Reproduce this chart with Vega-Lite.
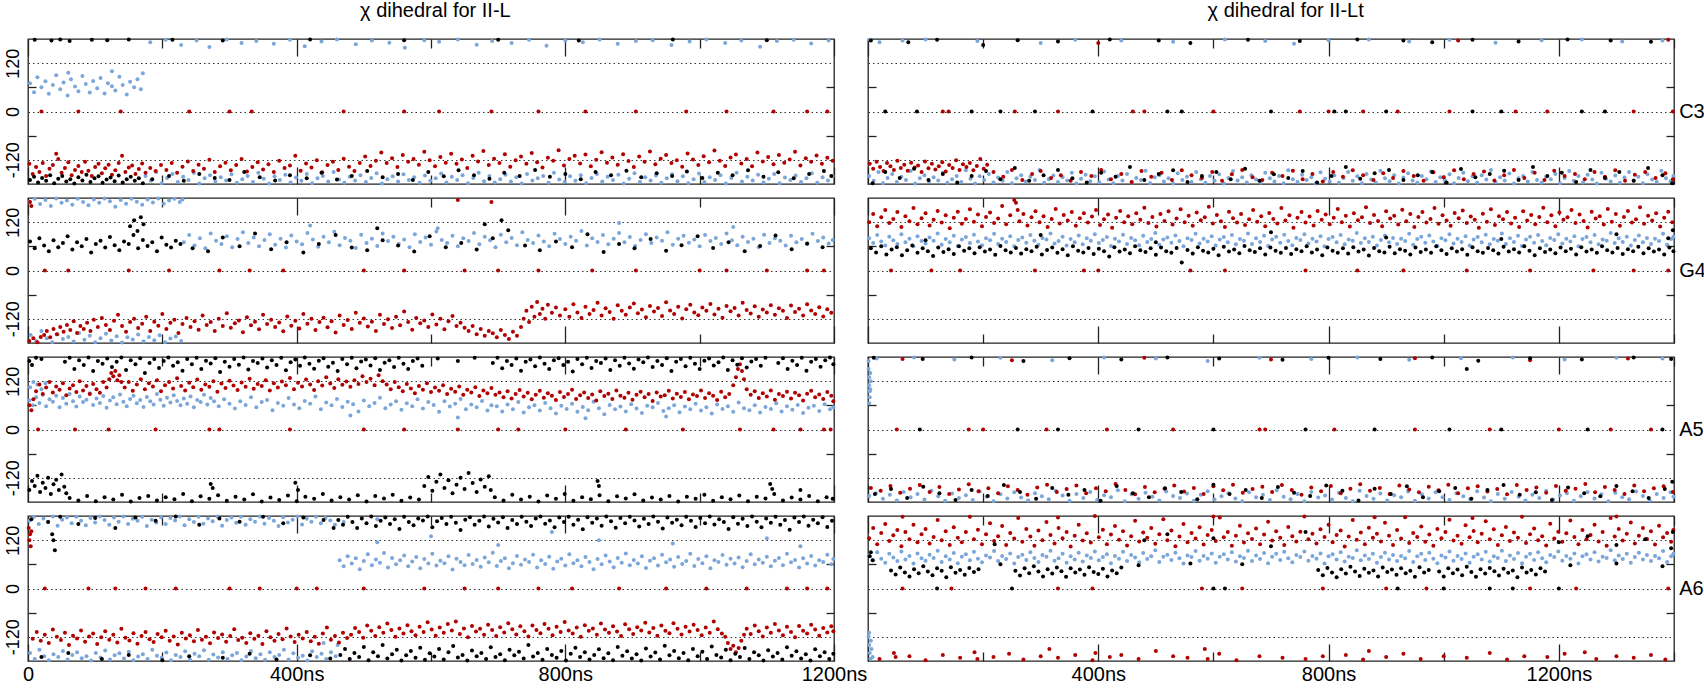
{
"$schema":"https://vega.github.io/schema/vega-lite/v6.json",
"background":"white",
"padding":{"left":3,"top":0,"right":0,"bottom":5},
"spacing":-13,
"config":{"view":{"stroke":"#222","strokeWidth":1.3},"font":"Liberation Sans","axis":{"labelFont":"Liberation Sans","labelColor":"#000","titleFont":"Liberation Sans","titleColor":"#000","tickColor":"#222","tickWidth":1.3,"domain":false,"labelOverlap":false},"title":{"font":"Liberation Sans","fontSize":20,"fontWeight":"normal","color":"#000","anchor":"middle"},"circle":{"size":16,"opacity":1,"strokeWidth":0}},
"hconcat":[
{"title":{"text":"χ dihedral for II-L","offset":16,"anchor":"middle"},"spacing":14,"bounds":"flush","vconcat":[
{"width":806,"height":145,"resolve":{"axis":{"x":"independent","y":"independent"}},"layer":[
{"data":{"values":"x,y\n3,70\n9,48\n14,85\n20,60\n26,75\n31,44\n37,66\n42,90\n48,55\n53,72\n59,40\n64,80\n70,62\n75,50\n81,88\n86,68\n92,47\n97,76\n103,58\n108,83\n114,45\n119,70\n125,63\n130,52\n136,86\n141,66\n147,42\n152,74\n158,60\n163,80\n168,55\n171,95\n125,100\n60,96\n182,172\n205,178\n228,165\n251,176\n270,160\n296,179\n318,170\n340,175\n366,168\n390,178\n412,162\n437,174\n460,179\n488,167\n512,176\n538,171\n561,158\n590,177\n612,173\n640,179\n668,166\n691,175\n720,170\n746,178\n772,163\n800,176\n826,172\n851,179\n878,168\n905,175\n930,177\n958,165\n985,174\n1010,179\n1038,170\n1062,176\n1090,161\n1115,175\n1140,178\n1166,169\n1192,176\n175,-160\n183,-172\n191,-150\n199,-178\n207,-165\n215,-155\n223,-175\n231,-162\n239,-170\n247,-152\n255,-179\n263,-166\n271,-158\n279,-174\n287,-163\n295,-171\n303,-156\n311,-177\n319,-168\n327,-160\n335,-175\n343,-152\n351,-167\n359,-179\n367,-161\n375,-170\n383,-157\n391,-176\n399,-164\n407,-172\n415,-155\n423,-178\n431,-166\n439,-160\n447,-174\n455,-150\n463,-169\n471,-177\n479,-162\n487,-171\n495,-158\n503,-175\n511,-165\n519,-153\n527,-179\n535,-168\n543,-161\n551,-174\n559,-156\n567,-170\n575,-163\n583,-177\n591,-159\n599,-172\n607,-166\n615,-154\n623,-176\n631,-162\n639,-170\n647,-158\n655,-178\n663,-165\n671,-152\n679,-173\n687,-160\n695,-176\n703,-168\n711,-157\n719,-174\n727,-163\n735,-179\n743,-155\n751,-171\n759,-166\n767,-160\n775,-177\n783,-152\n791,-169\n799,-175\n807,-161\n815,-172\n823,-158\n831,-178\n839,-165\n847,-155\n855,-174\n863,-162\n871,-170\n879,-157\n887,-179\n895,-167\n903,-153\n911,-175\n919,-163\n927,-171\n935,-159\n943,-177\n951,-166\n959,-156\n967,-173\n975,-161\n983,-178\n991,-168\n999,-154\n1007,-175\n1015,-163\n1023,-170\n1031,-158\n1039,-179\n1047,-165\n1055,-152\n1063,-174\n1071,-162\n1079,-171\n1087,-157\n1095,-176\n1103,-167\n1111,-155\n1119,-178\n1127,-164\n1135,-170\n1143,-159\n1151,-175\n1159,-166\n1167,-153\n1175,-177\n1183,-163\n1191,-171\n1198,-160","format":{"type":"csv","parse":{"x":"number","y":"number"}}},
"mark":{"type":"circle","color":"#7ba6d9"},
"encoding":{"x":{"field":"x","type":"quantitative","scale":{"domain":[0,1200],"nice":false},"axis":{"orient":"bottom","values":[0,200,400,600,800,1000,1200],"labels":false,"grid":false,"title":null,"tickSize":{"condition":{"test":"datum.value%400==0","value":-17},"value":-9}}},
"y":{"field":"y","type":"quantitative","scale":{"domain":[-180,180],"nice":false},"axis":{"orient":"left","values":[-120,-60,0,60,120],"labelExpr":"abs(datum.value)==60?'':datum.value+''","labelAngle":-90,"labelAlign":"center","labelBaseline":"bottom","labelFontSize":18,"labelPadding":14,"tickSize":-8,"tickOpacity":{"condition":{"test":"abs(datum.value)==60","value":1},"value":0},"grid":true,"gridDash":[1.5,3],"gridColor":"#333","gridOpacity":{"condition":{"test":"abs(datum.value)==60","value":0},"value":1},"title":null}}}},
{"data":{"values":"x,y\n2,-130\n7,-155\n12,-138\n17,-150\n22,-128\n27,-160\n32,-142\n37,-133\n42,-105\n45,-118\n50,-152\n55,-140\n60,-126\n65,-158\n70,-145\n75,-135\n80,-150\n85,-125\n90,-147\n95,-160\n100,-138\n105,-130\n110,-153\n115,-141\n120,-132\n125,-157\n130,-146\n135,-128\n140,-110\n145,-150\n150,-139\n155,-134\n160,-155\n165,-143\n170,-129\n175,-152\n182,-140\n190,-148\n198,-133\n206,-145\n214,-128\n222,-152\n230,-137\n238,-124\n246,-148\n254,-132\n262,-142\n270,-120\n278,-150\n286,-136\n294,-127\n302,-146\n310,-133\n318,-118\n326,-149\n334,-138\n342,-126\n350,-144\n358,-131\n366,-150\n374,-122\n382,-140\n390,-134\n398,-110\n406,-147\n414,-129\n422,-139\n430,-121\n438,-151\n446,-133\n454,-125\n462,-145\n470,-117\n478,-137\n486,-148\n494,-128\n502,-112\n510,-135\n518,-122\n526,-102\n534,-128\n542,-116\n550,-138\n558,-108\n566,-125\n574,-118\n582,-132\n590,-100\n598,-121\n606,-136\n614,-113\n622,-127\n630,-105\n638,-130\n646,-119\n654,-140\n662,-110\n670,-124\n678,-98\n686,-133\n694,-117\n702,-128\n710,-106\n718,-137\n726,-121\n734,-112\n742,-130\n750,-103\n758,-126\n766,-139\n774,-115\n782,-122\n790,-96\n798,-134\n806,-118\n814,-110\n822,-129\n830,-107\n838,-136\n846,-120\n854,-101\n862,-127\n870,-114\n878,-132\n886,-106\n894,-123\n902,-138\n910,-112\n918,-125\n926,-99\n934,-131\n942,-117\n950,-108\n958,-128\n966,-121\n974,-137\n982,-104\n990,-119\n998,-133\n1006,-111\n1014,-126\n1022,-97\n1030,-122\n1038,-135\n1046,-114\n1054,-107\n1062,-129\n1070,-118\n1078,-136\n1086,-102\n1094,-124\n1102,-113\n1110,-131\n1118,-108\n1126,-127\n1134,-119\n1142,-100\n1150,-134\n1158,-116\n1166,-125\n1174,-109\n1182,-130\n1190,-115\n1198,-122\n20,0\n75,0\n138,0\n240,0\n300,0\n333,0\n470,0\n560,0\n612,0\n690,0\n760,0\n830,0\n905,0\n980,0\n1040,0\n1110,0\n1160,0\n1190,0","format":{"type":"csv","parse":{"x":"number","y":"number"}}},
"mark":{"type":"circle","color":"#b00000"},"encoding":{"x":{"field":"x","type":"quantitative","axis":null},"y":{"field":"y","type":"quantitative","axis":null}}},
{"data":{"values":"x,y\n3,-170\n9,-162\n15,-176\n21,-165\n27,-172\n33,-158\n39,-178\n45,-167\n51,-160\n57,-174\n63,-168\n69,-179\n75,-163\n81,-171\n87,-157\n93,-175\n99,-166\n105,-161\n111,-177\n117,-169\n123,-164\n129,-173\n135,-159\n141,-176\n147,-168\n153,-162\n159,-172\n165,-166\n171,-178\n10,178\n35,176\n48,179\n62,175\n95,178\n118,177\n150,179\n185,-168\n210,-160\n232,-172\n255,-155\n278,-165\n300,-170\n322,-150\n345,-163\n368,-171\n390,-158\n415,-166\n437,-152\n460,-169\n482,-160\n505,-148\n528,-163\n551,-155\n573,-170\n596,-150\n619,-161\n641,-146\n664,-158\n687,-167\n709,-152\n732,-160\n755,-145\n777,-162\n800,-155\n823,-168\n845,-150\n868,-158\n891,-147\n913,-163\n936,-153\n959,-160\n981,-149\n1004,-165\n1027,-152\n1049,-158\n1072,-146\n1095,-162\n1117,-151\n1140,-166\n1163,-155\n1185,-148\n1196,-160\n215,178\n290,176\n420,179\n560,177\n700,178\n820,176\n960,179\n1100,177","format":{"type":"csv","parse":{"x":"number","y":"number"}}},
"mark":{"type":"circle","color":"#000000"},"encoding":{"x":{"field":"x","type":"quantitative","axis":null},"y":{"field":"y","type":"quantitative","axis":null}}},
{"data":{"values":[{"x":0,"y":0}]},"mark":{"type":"circle","opacity":0},"encoding":{"x":{"field":"x","type":"quantitative","axis":{"orient":"top","values":[0,200,400,600,800,1000,1200],"labels":false,"grid":false,"title":null,"tickSize":{"condition":{"test":"datum.value%400==0","value":-17},"value":-9}}},"y":{"field":"y","type":"quantitative","axis":{"orient":"right","values":[-60,60],"labels":false,"grid":false,"title":null,"tickSize":-8}}}}
]},
{"width":806,"height":145,"resolve":{"axis":{"x":"independent","y":"independent"}},"layer":[
{"data":{"values":"x,y\n2,170\n10,178\n18,165\n26,175\n34,160\n42,179\n50,168\n58,174\n66,163\n74,178\n82,170\n90,162\n98,176\n106,168\n114,179\n122,172\n130,158\n138,175\n146,166\n154,178\n162,171\n170,163\n178,176\n186,169\n194,179\n202,166\n210,174\n218,178\n226,170\n230,176\n4,-160\n12,-175\n20,-150\n28,-168\n36,-178\n44,-158\n52,-170\n60,-165\n68,-176\n76,-155\n84,-172\n92,-162\n100,-178\n108,-168\n116,-157\n124,-174\n132,-163\n140,-179\n148,-166\n156,-171\n164,-159\n172,-176\n180,-165\n188,-173\n196,-161\n204,-178\n212,-169\n220,-164\n228,-175\n232,70\n240,88\n248,62\n256,80\n264,55\n272,92\n280,74\n288,66\n296,85\n304,58\n312,78\n320,95\n328,68\n336,82\n344,60\n352,76\n360,90\n368,64\n376,79\n384,57\n392,87\n400,72\n408,65\n416,93\n424,77\n432,59\n440,84\n448,70\n456,96\n464,63\n472,81\n480,74\n488,56\n496,89\n504,68\n512,79\n520,61\n528,92\n536,73\n544,84\n552,66\n560,77\n568,58\n576,90\n584,71\n592,82\n600,64\n608,97\n616,76\n624,68\n632,86\n640,60\n648,80\n656,73\n664,93\n672,65\n680,84\n688,75\n696,58\n704,89\n712,70\n720,81\n728,63\n736,95\n744,76\n752,68\n760,87\n768,72\n776,60\n784,91\n792,78\n800,66\n808,84\n816,74\n824,98\n832,62\n840,80\n848,71\n856,88\n864,65\n872,79\n880,93\n888,70\n896,83\n904,61\n912,76\n920,90\n928,68\n936,82\n944,74\n952,95\n960,64\n968,79\n976,86\n984,69\n992,77\n1000,60\n1008,88\n1016,73\n1024,81\n1032,66\n1040,92\n1048,75\n1056,63\n1064,84\n1072,71\n1080,79\n1088,58\n1096,89\n1104,68\n1112,80\n1120,74\n1128,62\n1136,86\n1144,70\n1152,78\n1160,65\n1168,91\n1176,73\n1184,82\n1192,67\n1198,76\n420,112\n610,105\n880,118\n1050,108","format":{"type":"csv","parse":{"x":"number","y":"number"}}},
"mark":{"type":"circle","color":"#7ba6d9"},
"encoding":{"x":{"field":"x","type":"quantitative","scale":{"domain":[0,1200],"nice":false},"axis":{"orient":"bottom","values":[0,200,400,600,800,1000,1200],"labels":false,"grid":false,"title":null,"tickSize":{"condition":{"test":"datum.value%400==0","value":-17},"value":-9}}},
"y":{"field":"y","type":"quantitative","scale":{"domain":[-180,180],"nice":false},"axis":{"orient":"left","values":[-120,-60,0,60,120],"labelExpr":"abs(datum.value)==60?'':datum.value+''","labelAngle":-90,"labelAlign":"center","labelBaseline":"bottom","labelFontSize":18,"labelPadding":14,"tickSize":-8,"tickOpacity":{"condition":{"test":"abs(datum.value)==60","value":1},"value":0},"grid":true,"gridDash":[1.5,3],"gridColor":"#333","gridOpacity":{"condition":{"test":"abs(datum.value)==60","value":0},"value":1},"title":null}}}},
{"data":{"values":"x,y\n2,-175\n8,-168\n14,-178\n19,-165\n24,-160\n28,-150\n33,-166\n38,-145\n43,-158\n48,-140\n53,-152\n58,-135\n63,-148\n68,-126\n73,-155\n78,-138\n83,-145\n88,-130\n93,-150\n98,-122\n104,-140\n110,-118\n116,-135\n122,-148\n128,-125\n134,-110\n140,-138\n146,-152\n152,-128\n158,-120\n164,-143\n170,-132\n176,-115\n182,-150\n188,-127\n194,-137\n200,-108\n206,-145\n212,-130\n218,-122\n224,-155\n230,-133\n236,-118\n242,-140\n248,-126\n254,-147\n260,-112\n266,-135\n272,-128\n278,-150\n284,-120\n290,-138\n296,-106\n302,-142\n308,-131\n314,-124\n320,-153\n326,-116\n332,-136\n338,-127\n344,-146\n350,-110\n356,-133\n362,-122\n368,-140\n374,-129\n380,-151\n386,-114\n392,-137\n398,-125\n404,-144\n410,-108\n416,-132\n422,-120\n428,-148\n434,-128\n440,-117\n446,-141\n452,-126\n458,-154\n464,-112\n470,-135\n476,-123\n482,-145\n488,-105\n494,-130\n500,-119\n506,-139\n512,-127\n518,-150\n524,-110\n530,-133\n536,-121\n542,-143\n548,-115\n554,-136\n560,-102\n566,-128\n572,-147\n578,-118\n584,-131\n590,-124\n596,-140\n602,-109\n608,-134\n614,-120\n620,-146\n626,-126\n632,-113\n638,-138\n644,-130\n650,-142\n656,-150\n662,-138\n668,-158\n674,-145\n680,-162\n686,-150\n692,-156\n698,-166\n704,-148\n710,-160\n716,-170\n722,-152\n728,-162\n734,-140\n738,-120\n742,-100\n746,-128\n750,-90\n754,-115\n758,-78\n762,-108\n766,-95\n770,-120\n774,-85\n780,-105\n786,-92\n792,-112\n800,-96\n806,-115\n812,-84\n818,-104\n824,-118\n830,-90\n836,-108\n842,-98\n848,-80\n854,-112\n860,-94\n866,-103\n872,-120\n878,-86\n884,-100\n890,-110\n896,-92\n902,-82\n908,-106\n914,-97\n920,-116\n926,-88\n932,-102\n938,-93\n944,-113\n950,-79\n956,-99\n962,-108\n968,-90\n974,-119\n980,-96\n986,-85\n992,-104\n998,-111\n1004,-92\n1010,-100\n1016,-83\n1022,-109\n1028,-95\n1034,-117\n1040,-88\n1046,-101\n1052,-93\n1058,-112\n1064,-80\n1070,-98\n1076,-107\n1082,-89\n1088,-115\n1094,-97\n1100,-104\n1106,-86\n1112,-110\n1118,-94\n1124,-100\n1130,-118\n1136,-87\n1142,-103\n1148,-95\n1154,-112\n1160,-84\n1166,-99\n1172,-108\n1178,-91\n1184,-114\n1190,-96\n1196,-105\n640,175\n690,170\n3,170\n5,160\n25,0\n60,0\n150,0\n210,0\n285,0\n330,0\n380,0\n500,0\n560,0\n650,0\n700,0\n760,0\n840,0\n905,0\n1000,0\n1040,0\n1100,0\n1160,0\n1185,0","format":{"type":"csv","parse":{"x":"number","y":"number"}}},
"mark":{"type":"circle","color":"#b00000"},"encoding":{"x":{"field":"x","type":"quantitative","axis":null},"y":{"field":"y","type":"quantitative","axis":null}}},
{"data":{"values":"x,y\n3,72\n10,55\n17,80\n24,62\n31,48\n38,75\n45,58\n52,68\n59,85\n66,52\n73,70\n80,60\n87,78\n94,45\n101,66\n108,74\n115,57\n122,83\n129,63\n136,50\n143,72\n150,66\n157,88\n164,55\n171,76\n178,61\n185,70\n192,48\n199,82\n206,64\n213,57\n220,74\n227,66\n152,110\n158,125\n163,98\n168,132\n172,115\n245,55\n268,48\n290,82\n315,60\n338,92\n362,53\n385,70\n410,45\n433,66\n458,88\n482,57\n505,50\n520,105\n528,75\n551,62\n575,47\n598,85\n622,58\n645,68\n668,52\n680,115\n692,80\n705,125\n715,100\n740,62\n762,50\n786,72\n810,58\n833,90\n857,46\n880,66\n903,55\n927,78\n950,49\n973,63\n997,85\n1020,56\n1043,70\n1067,48\n1090,61\n1113,87\n1137,53\n1160,67\n1183,58","format":{"type":"csv","parse":{"x":"number","y":"number"}}},
"mark":{"type":"circle","color":"#000000"},"encoding":{"x":{"field":"x","type":"quantitative","axis":null},"y":{"field":"y","type":"quantitative","axis":null}}},
{"data":{"values":[{"x":0,"y":0}]},"mark":{"type":"circle","opacity":0},"encoding":{"x":{"field":"x","type":"quantitative","axis":{"orient":"top","values":[0,200,400,600,800,1000,1200],"labels":false,"grid":false,"title":null,"tickSize":{"condition":{"test":"datum.value%400==0","value":-17},"value":-9}}},"y":{"field":"y","type":"quantitative","axis":{"orient":"right","values":[-60,60],"labels":false,"grid":false,"title":null,"tickSize":-8}}}}
]},
{"width":806,"height":145,"resolve":{"axis":{"x":"independent","y":"independent"}},"layer":[
{"data":{"values":"x,y\n3,105\n8,118\n14,112\n20,100\n26,115\n2,72\n7,60\n12,80\n17,66\n22,86\n27,58\n32,75\n37,69\n42,84\n47,55\n52,78\n57,64\n62,88\n67,70\n72,57\n77,82\n82,68\n87,74\n92,90\n97,61\n102,77\n107,66\n112,83\n117,54\n122,72\n127,80\n132,63\n137,87\n142,69\n147,58\n152,76\n157,84\n162,65\n167,73\n172,56\n177,81\n182,70\n187,62\n192,88\n197,74\n202,59\n207,79\n212,67\n217,85\n222,71\n227,60\n232,77\n237,64\n242,82\n247,55\n252,73\n257,68\n262,86\n267,62\n272,78\n277,70\n284,58\n292,75\n300,64\n308,52\n316,70\n324,61\n332,80\n340,55\n348,68\n356,73\n364,48\n372,66\n380,59\n388,78\n396,62\n404,53\n412,71\n420,64\n428,82\n436,50\n444,67\n452,60\n460,76\n468,56\n476,69\n484,63\n492,45\n500,72\n508,58\n516,66\n524,79\n532,53\n540,62\n548,70\n556,49\n564,65\n572,58\n580,75\n588,52\n596,68\n604,61\n612,44\n620,70\n628,57\n636,64\n644,76\n652,50\n660,62\n668,55\n676,71\n684,47\n690,60\n698,58\n706,45\n714,62\n722,50\n730,68\n738,42\n746,55\n754,60\n762,47\n770,66\n778,53\n786,40\n794,59\n802,51\n810,64\n818,44\n826,56\n834,48\n842,69\n850,53\n858,38\n866,61\n874,50\n882,57\n890,45\n898,63\n906,52\n914,41\n922,59\n930,55\n938,66\n946,46\n954,53\n962,60\n970,43\n978,57\n986,50\n994,64\n1002,47\n1010,55\n1018,40\n1026,62\n1034,51\n1042,58\n1050,44\n1058,67\n1066,53\n1074,48\n1082,60\n1090,42\n1098,56\n1106,51\n1114,65\n1122,45\n1130,58\n1138,49\n1146,61\n1154,41\n1162,54\n1170,59\n1178,46\n1186,63\n1194,50\n1199,55\n480,35\n640,30\n830,28\n950,32","format":{"type":"csv","parse":{"x":"number","y":"number"}}},
"mark":{"type":"circle","color":"#7ba6d9"},
"encoding":{"x":{"field":"x","type":"quantitative","scale":{"domain":[0,1200],"nice":false},"axis":{"orient":"bottom","values":[0,200,400,600,800,1000,1200],"labels":false,"grid":false,"title":null,"tickSize":{"condition":{"test":"datum.value%400==0","value":-17},"value":-9}}},
"y":{"field":"y","type":"quantitative","scale":{"domain":[-180,180],"nice":false},"axis":{"orient":"left","values":[-120,-60,0,60,120],"labelExpr":"abs(datum.value)==60?'':datum.value+''","labelAngle":-90,"labelAlign":"center","labelBaseline":"bottom","labelFontSize":18,"labelPadding":14,"tickSize":-8,"tickOpacity":{"condition":{"test":"abs(datum.value)==60","value":1},"value":0},"grid":true,"gridDash":[1.5,3],"gridColor":"#333","gridOpacity":{"condition":{"test":"abs(datum.value)==60","value":0},"value":1},"title":null}}}},
{"data":{"values":"x,y\n2,60\n5,48\n8,75\n12,95\n17,112\n22,88\n27,104\n32,118\n37,92\n42,107\n47,99\n52,115\n57,85\n62,102\n67,110\n72,93\n77,120\n82,97\n87,108\n92,88\n97,113\n102,100\n107,91\n112,118\n117,104\n121,125\n124,140\n127,132\n130,145\n133,122\n136,135\n139,118\n144,104\n150,118\n156,96\n162,112\n168,125\n174,100\n180,115\n186,107\n192,122\n198,95\n204,110\n210,118\n216,102\n222,127\n228,108\n234,97\n240,116\n246,105\n252,124\n258,99\n264,112\n270,106\n276,120\n282,94\n288,114\n294,103\n300,121\n306,109\n312,98\n318,117\n324,106\n330,126\n336,101\n342,113\n348,108\n354,122\n360,97\n366,115\n372,104\n378,119\n384,110\n390,128\n396,100\n402,116\n408,107\n414,124\n420,112\n426,98\n432,120\n438,109\n444,130\n450,114\n456,103\n462,125\n468,111\n474,119\n480,106\n486,122\n492,113\n498,132\n504,118\n510,126\n516,110\n522,135\n528,120\n534,112\n540,100\n546,118\n552,105\n558,95\n564,113\n570,102\n576,90\n582,108\n588,99\n594,115\n600,93\n606,104\n612,96\n618,110\n624,88\n630,101\n636,94\n642,107\n648,86\n654,99\n660,92\n666,105\n672,83\n678,97\n684,90\n690,103\n696,86\n702,92\n708,80\n714,95\n720,77\n726,88\n732,98\n738,82\n744,91\n750,75\n756,86\n762,96\n768,79\n774,90\n780,84\n786,73\n792,93\n798,81\n804,88\n810,99\n816,76\n822,85\n828,92\n834,78\n840,87\n846,72\n852,95\n858,83\n864,89\n870,76\n876,97\n882,84\n888,79\n894,91\n900,74\n906,86\n912,94\n918,80\n924,88\n930,71\n936,92\n942,82\n948,85\n954,96\n960,77\n966,89\n972,81\n978,93\n984,75\n990,87\n996,83\n1002,97\n1008,78\n1014,90\n1020,84\n1026,73\n1032,94\n1038,80\n1044,88\n1050,110\n1054,130\n1057,150\n1060,162\n1063,145\n1066,125\n1070,100\n1076,86\n1082,95\n1088,78\n1094,90\n1100,82\n1106,97\n1112,74\n1118,88\n1124,83\n1130,94\n1136,77\n1142,91\n1148,85\n1154,72\n1160,89\n1166,96\n1172,80\n1178,87\n1184,76\n1190,93\n1196,84\n1199,70\n15,0\n70,0\n120,0\n190,0\n270,0\n285,0\n390,0\n500,0\n560,0\n640,0\n700,0\n730,0\n800,0\n890,0\n975,0\n1060,0\n1110,0\n1150,0\n1185,0\n1195,0","format":{"type":"csv","parse":{"x":"number","y":"number"}}},
"mark":{"type":"circle","color":"#b00000"},"encoding":{"x":{"field":"x","type":"quantitative","axis":null},"y":{"field":"y","type":"quantitative","axis":null}}},
{"data":{"values":"x,y\n2,170\n6,160\n12,178\n20,175\n55,168\n62,178\n69,150\n76,172\n83,160\n90,179\n97,145\n104,170\n111,163\n118,176\n125,155\n132,168\n139,179\n146,148\n153,172\n160,162\n167,177\n174,140\n181,165\n188,175\n195,153\n202,170\n209,179\n216,158\n223,167\n230,146\n237,175\n244,162\n251,178\n258,150\n265,171\n272,164\n279,177\n286,143\n293,168\n300,156\n307,175\n314,161\n321,179\n328,149\n335,170\n342,165\n349,176\n356,154\n363,172\n370,160\n377,178\n384,147\n391,167\n398,174\n405,158\n412,179\n419,163\n426,151\n433,171\n440,177\n447,156\n454,166\n461,145\n468,175\n475,162\n482,178\n489,152\n496,169\n503,174\n510,159\n517,177\n524,148\n531,166\n538,172\n545,155\n552,178\n559,163\n566,150\n573,170\n580,176\n587,158\n610,176\n640,170\n665,178\n692,165\n699,178\n706,152\n713,170\n720,160\n727,176\n734,146\n741,168\n748,174\n755,157\n762,179\n769,163\n776,150\n783,172\n790,177\n797,160\n804,168\n811,144\n818,175\n825,162\n832,178\n839,153\n846,170\n853,165\n860,176\n867,148\n874,172\n881,158\n888,178\n895,164\n902,151\n909,174\n916,167\n923,179\n930,155\n937,170\n944,160\n951,177\n958,145\n965,168\n972,175\n979,157\n986,178\n993,163\n1000,150\n1007,171\n1014,176\n1021,159\n1028,167\n1035,179\n1042,148\n1049,172\n1056,161\n1063,177\n1070,154\n1077,169\n1084,175\n1091,158\n1098,178\n1117,165\n1124,177\n1131,150\n1138,171\n1145,160\n1152,178\n1159,146\n1166,168\n1173,175\n1180,156\n1187,172\n1194,179\n1199,162\n2,-150\n6,-128\n10,-140\n14,-115\n18,-155\n22,-132\n26,-145\n30,-120\n34,-160\n38,-136\n42,-125\n46,-150\n50,-112\n54,-142\n57,-158\n590,-140\n596,-118\n602,-152\n608,-130\n614,-112\n620,-145\n626,-126\n632,-158\n638,-137\n644,-120\n650,-148\n656,-108\n662,-133\n668,-155\n674,-124\n680,-142\n686,-116\n689,-150\n62,-170\n75,-176\n88,-165\n101,-178\n114,-168\n127,-174\n140,-162\n153,-179\n166,-170\n179,-165\n192,-176\n205,-168\n218,-173\n231,-160\n244,-178\n257,-166\n270,-172\n283,-163\n296,-177\n309,-167\n322,-174\n335,-161\n348,-179\n361,-169\n374,-175\n387,-164\n400,-178\n413,-167\n426,-172\n439,-160\n452,-176\n465,-168\n478,-174\n491,-163\n504,-179\n517,-165\n530,-171\n543,-162\n556,-177\n569,-169\n582,-174\n695,-168\n708,-176\n721,-162\n734,-174\n747,-167\n760,-179\n773,-164\n786,-172\n799,-160\n812,-177\n825,-168\n838,-173\n851,-163\n864,-178\n877,-166\n890,-171\n903,-161\n916,-176\n929,-169\n942,-174\n955,-165\n968,-179\n981,-167\n994,-172\n1007,-162\n1020,-177\n1033,-168\n1046,-173\n1059,-164\n1072,-178\n1085,-167\n1098,-171\n1111,-160\n1124,-176\n1137,-169\n1150,-174\n1163,-165\n1176,-178\n1189,-168\n1198,-172\n272,-135\n275,-145\n398,-132\n402,-150\n850,-140\n848,-128\n1105,-135\n1108,-148\n1150,-150","format":{"type":"csv","parse":{"x":"number","y":"number"}}},
"mark":{"type":"circle","color":"#000000"},"encoding":{"x":{"field":"x","type":"quantitative","axis":null},"y":{"field":"y","type":"quantitative","axis":null}}},
{"data":{"values":[{"x":0,"y":0}]},"mark":{"type":"circle","opacity":0},"encoding":{"x":{"field":"x","type":"quantitative","axis":{"orient":"top","values":[0,200,400,600,800,1000,1200],"labels":false,"grid":false,"title":null,"tickSize":{"condition":{"test":"datum.value%400==0","value":-17},"value":-9}}},"y":{"field":"y","type":"quantitative","axis":{"orient":"right","values":[-60,60],"labels":false,"grid":false,"title":null,"tickSize":-8}}}}
]},
{"width":806,"height":145,"resolve":{"axis":{"x":"independent","y":"independent"}},"layer":[
{"data":{"values":"x,y\n2,168\n9,178\n16,160\n23,174\n30,165\n37,179\n44,156\n51,171\n58,176\n65,162\n72,178\n79,168\n86,157\n93,175\n100,164\n107,179\n114,170\n121,158\n128,176\n135,166\n142,179\n149,160\n156,173\n163,168\n170,178\n177,155\n184,171\n191,164\n198,177\n205,160\n212,175\n219,169\n226,179\n233,157\n240,172\n247,165\n254,178\n261,161\n268,174\n275,167\n282,179\n289,156\n296,170\n303,176\n310,163\n317,178\n324,158\n331,172\n338,166\n345,179\n352,161\n359,175\n366,168\n373,155\n380,177\n387,164\n394,171\n401,179\n408,159\n415,173\n422,166\n429,178\n436,162\n443,175\n450,169\n457,158\n3,-160\n10,-175\n17,-152\n24,-168\n31,-178\n38,-163\n45,-170\n52,-155\n59,-176\n66,-165\n73,-158\n80,-173\n87,-168\n94,-179\n101,-160\n108,-171\n115,-154\n122,-176\n129,-166\n136,-161\n143,-174\n150,-157\n157,-178\n164,-169\n171,-163\n178,-175\n185,-152\n192,-167\n199,-172\n206,-159\n213,-178\n220,-165\n227,-170\n234,-156\n241,-176\n248,-162\n255,-168\n262,-153\n269,-177\n276,-164\n283,-171\n290,-158\n297,-175\n304,-166\n311,-160\n318,-178\n325,-169\n332,-155\n339,-173\n346,-163\n353,-177\n360,-158\n367,-170\n374,-165\n381,-152\n388,-176\n395,-161\n402,-172\n409,-167\n416,-179\n423,-156\n430,-170\n437,-162\n444,-175\n451,-158\n458,-168\n461,-140\n440,-135\n464,70\n470,55\n476,80\n482,62\n488,75\n494,48\n500,68\n506,85\n512,58\n518,72\n524,64\n530,88\n536,52\n542,76\n548,60\n554,70\n560,82\n566,55\n572,67\n578,78\n584,50\n590,73\n596,62\n602,86\n608,57\n614,69\n620,63\n626,80\n632,47\n638,74\n644,66\n650,58\n656,83\n662,61\n668,71\n674,54\n680,77\n686,65\n692,89\n698,56\n704,68\n710,75\n716,50\n722,63\n728,81\n734,59\n740,72\n746,66\n752,84\n758,52\n764,70\n770,61\n776,79\n782,49\n788,67\n794,74\n800,57\n806,85\n812,63\n818,70\n824,55\n830,78\n836,66\n842,48\n848,73\n854,60\n860,82\n866,67\n872,53\n878,76\n884,64\n890,87\n896,58\n902,71\n908,62\n914,80\n920,51\n926,69\n932,75\n938,57\n944,84\n950,65\n956,72\n962,54\n968,78\n974,61\n980,68\n986,86\n992,56\n998,73\n1004,63\n1010,80\n1016,50\n1022,70\n1028,66\n1034,83\n1040,59\n1046,74\n1052,62\n1058,77\n1064,53\n1070,68\n1076,85\n1082,60\n1088,72\n1094,64\n1100,79\n1106,55\n1112,69\n1118,76\n1124,58\n1130,86\n1136,65\n1142,71\n1148,52\n1154,75\n1160,62\n1166,81\n1172,57\n1178,70\n1184,66\n1190,84\n1196,60\n1199,73\n520,115\n600,130\n700,108\n780,140\n850,120\n960,112\n1100,125\n1150,105\n470,165\n520,172","format":{"type":"csv","parse":{"x":"number","y":"number"}}},
"mark":{"type":"circle","color":"#7ba6d9"},
"encoding":{"x":{"field":"x","type":"quantitative","scale":{"domain":[0,1200],"nice":false},"axis":{"orient":"bottom","values":[0,200,400,600,800,1000,1200],"labelExpr":"datum.value==0?'0':(datum.value%400==0?datum.value+'ns':'')","labelFontSize":20,"labelPadding":20,"labelFlush":false,"grid":false,"title":null,"tickSize":{"condition":{"test":"datum.value%400==0","value":-17},"value":-9}}},
"y":{"field":"y","type":"quantitative","scale":{"domain":[-180,180],"nice":false},"axis":{"orient":"left","values":[-120,-60,0,60,120],"labelExpr":"abs(datum.value)==60?'':datum.value+''","labelAngle":-90,"labelAlign":"center","labelBaseline":"bottom","labelFontSize":18,"labelPadding":14,"tickSize":-8,"tickOpacity":{"condition":{"test":"abs(datum.value)==60","value":1},"value":0},"grid":true,"gridDash":[1.5,3],"gridColor":"#333","gridOpacity":{"condition":{"test":"abs(datum.value)==60","value":0},"value":1},"title":null}}}},
{"data":{"values":"x,y\n1,150\n2,120\n3,135\n4,105\n5,142\n7,-125\n13,-108\n19,-130\n25,-115\n31,-135\n37,-102\n43,-120\n49,-128\n55,-110\n61,-140\n67,-117\n73,-124\n79,-104\n85,-132\n91,-119\n97,-112\n103,-138\n109,-121\n115,-106\n121,-127\n127,-115\n133,-134\n139,-100\n145,-122\n151,-129\n157,-111\n163,-137\n169,-118\n175,-108\n181,-126\n187,-133\n193,-113\n199,-121\n205,-105\n211,-130\n217,-119\n223,-139\n229,-110\n235,-124\n241,-116\n247,-131\n253,-103\n259,-127\n265,-120\n271,-136\n277,-109\n283,-123\n289,-114\n295,-132\n301,-118\n307,-101\n313,-128\n319,-122\n325,-135\n331,-111\n337,-125\n343,-117\n349,-138\n355,-106\n361,-121\n367,-130\n373,-113\n379,-126\n385,-99\n391,-119\n397,-133\n403,-115\n409,-124\n415,-108\n421,-131\n427,-120\n433,-137\n439,-112\n445,-97\n451,-127\n457,-118\n463,-134\n469,-110\n475,-123\n481,-115\n487,-98\n493,-108\n499,-122\n505,-92\n511,-105\n517,-118\n523,-96\n529,-110\n535,-87\n541,-103\n547,-120\n553,-99\n559,-112\n565,-91\n571,-106\n577,-116\n583,-95\n589,-108\n595,-84\n601,-102\n607,-117\n613,-97\n619,-110\n625,-88\n631,-104\n637,-82\n643,-113\n649,-99\n655,-121\n661,-93\n667,-107\n673,-100\n679,-115\n685,-90\n691,-103\n697,-118\n703,-96\n709,-109\n715,-86\n721,-101\n727,-114\n733,-94\n739,-106\n745,-119\n751,-92\n757,-103\n763,-111\n769,-88\n775,-100\n781,-116\n787,-95\n793,-108\n799,-83\n805,-104\n811,-112\n817,-97\n823,-120\n829,-91\n835,-105\n841,-99\n847,-115\n853,-87\n859,-102\n865,-110\n871,-94\n877,-107\n883,-118\n889,-89\n895,-101\n901,-113\n907,-96\n913,-104\n919,-85\n925,-109\n931,-98\n937,-117\n943,-92\n949,-105\n955,-111\n961,-86\n967,-100\n973,-114\n979,-95\n985,-107\n991,-90\n997,-103\n1003,-116\n1009,-97\n1015,-110\n1021,-82\n1027,-101\n1033,-112\n1038,-120\n1042,-135\n1046,-150\n1050,-142\n1054,-158\n1058,-148\n1062,-130\n1066,-115\n1070,-100\n1076,-113\n1082,-92\n1088,-106\n1094,-119\n1100,-97\n1106,-110\n1112,-88\n1118,-104\n1124,-116\n1130,-95\n1136,-108\n1142,-121\n1148,-93\n1154,-105\n1160,-112\n1166,-90\n1172,-102\n1178,-117\n1184,-98\n1190,-109\n1196,-94\n1199,-106\n25,0\n90,0\n130,0\n175,0\n220,0\n300,0\n345,0\n400,0\n430,0\n500,0\n590,0\n650,0\n700,0\n760,0\n810,0\n880,0\n950,0\n1010,0\n1070,0\n1130,0\n1160,0\n1190,0","format":{"type":"csv","parse":{"x":"number","y":"number"}}},
"mark":{"type":"circle","color":"#b00000"},"encoding":{"x":{"field":"x","type":"quantitative","axis":null},"y":{"field":"y","type":"quantitative","axis":null}}},
{"data":{"values":"x,y\n5,172\n30,165\n48,178\n75,160\n100,175\n130,150\n160,176\n190,168\n220,179\n255,158\n285,174\n315,166\n350,178\n380,162\n410,176\n440,170\n455,150\n36,135\n38,120\n40,95\n462,170\n469,158\n476,178\n483,165\n490,150\n497,174\n504,162\n511,179\n518,155\n525,168\n532,176\n539,160\n546,172\n553,148\n560,178\n567,165\n574,157\n581,174\n588,169\n595,179\n602,152\n609,167\n616,175\n623,160\n630,178\n637,163\n644,145\n651,171\n658,177\n665,158\n672,168\n679,179\n686,154\n693,173\n700,164\n707,177\n714,150\n721,170\n728,160\n735,178\n742,166\n749,155\n756,174\n763,179\n770,161\n777,169\n784,152\n791,176\n798,165\n805,178\n812,158\n819,171\n826,147\n833,177\n840,163\n847,174\n854,156\n861,179\n868,167\n875,151\n882,175\n889,162\n896,178\n903,169\n910,154\n917,173\n924,160\n931,179\n938,166\n945,149\n952,176\n959,163\n966,171\n973,157\n980,178\n987,168\n994,153\n1001,175\n1008,162\n1015,179\n1022,159\n1029,172\n1036,165\n1043,148\n1050,177\n1057,161\n1064,173\n1071,155\n1078,179\n1085,166\n1092,152\n1099,174\n1106,163\n1113,178\n1120,158\n1127,170\n1134,146\n1141,176\n1148,165\n1155,179\n1162,156\n1169,171\n1176,162\n1183,177\n1190,153\n1197,168\n20,-170\n60,-160\n110,-175\n150,-165\n200,-178\n240,-168\n290,-172\n330,-162\n370,-176\n420,-166\n450,-174\n465,-165\n472,-150\n479,-175\n486,-160\n493,-170\n500,-145\n507,-178\n514,-158\n521,-168\n528,-140\n535,-174\n542,-163\n549,-152\n556,-179\n563,-166\n570,-155\n577,-172\n584,-147\n591,-177\n598,-161\n605,-169\n612,-150\n619,-176\n626,-158\n633,-143\n640,-171\n647,-165\n654,-179\n661,-154\n668,-168\n675,-160\n682,-175\n689,-146\n696,-170\n703,-163\n710,-178\n717,-152\n724,-166\n731,-157\n738,-174\n745,-140\n752,-169\n759,-160\n766,-177\n773,-150\n780,-165\n787,-172\n794,-155\n801,-179\n808,-162\n815,-147\n822,-170\n829,-158\n836,-176\n843,-165\n850,-151\n857,-173\n864,-161\n871,-178\n878,-145\n885,-167\n892,-156\n899,-174\n906,-163\n913,-179\n920,-149\n927,-169\n934,-159\n941,-176\n948,-142\n955,-166\n962,-155\n969,-173\n976,-160\n983,-178\n990,-150\n997,-168\n1004,-157\n1011,-175\n1018,-144\n1025,-165\n1032,-171\n1039,-152\n1046,-178\n1053,-162\n1060,-170\n1067,-148\n1074,-175\n1081,-158\n1088,-166\n1095,-179\n1102,-153\n1109,-169\n1116,-160\n1123,-176\n1130,-146\n1137,-167\n1144,-156\n1151,-174\n1158,-163\n1165,-179\n1172,-151\n1179,-168\n1186,-158\n1193,-175\n1199,-162","format":{"type":"csv","parse":{"x":"number","y":"number"}}},
"mark":{"type":"circle","color":"#000000"},"encoding":{"x":{"field":"x","type":"quantitative","axis":null},"y":{"field":"y","type":"quantitative","axis":null}}},
{"data":{"values":[{"x":0,"y":0}]},"mark":{"type":"circle","opacity":0},"encoding":{"x":{"field":"x","type":"quantitative","axis":{"orient":"top","values":[0,200,400,600,800,1000,1200],"labels":false,"grid":false,"title":null,"tickSize":{"condition":{"test":"datum.value%400==0","value":-17},"value":-9}}},"y":{"field":"y","type":"quantitative","axis":{"orient":"right","values":[-60,60],"labels":false,"grid":false,"title":null,"tickSize":-8}}}}
]}
]},
{"title":{"text":"χ dihedral for II-Lt","offset":16,"anchor":"middle"},"spacing":14,"bounds":"flush","vconcat":[
{"width":806,"height":145,"resolve":{"axis":{"x":"independent","y":"independent"}},"layer":[
{"data":{"values":"x,y\n3,178\n20,172\n60,176\n100,179\n190,175\n300,170\n360,178\n440,176\n530,173\n620,179\n690,175\n740,168\n800,177\n870,179\n940,174\n1010,178\n1090,171\n1170,177\n1240,179\n1310,174\n1380,176\n2,-160\n10,-172\n18,-150\n26,-178\n34,-165\n42,-155\n50,-175\n58,-162\n66,-170\n74,-148\n82,-179\n90,-166\n98,-158\n106,-174\n114,-163\n122,-171\n130,-152\n138,-177\n146,-168\n154,-160\n162,-175\n170,-146\n178,-167\n186,-179\n194,-161\n202,-170\n210,-155\n218,-176\n226,-164\n234,-172\n242,-150\n250,-178\n258,-166\n266,-158\n274,-174\n282,-162\n290,-170\n298,-145\n306,-177\n314,-168\n322,-159\n330,-175\n338,-163\n346,-171\n354,-152\n362,-179\n370,-167\n378,-157\n386,-173\n394,-161\n402,-176\n410,-149\n418,-169\n426,-178\n434,-160\n442,-171\n450,-155\n458,-176\n466,-165\n474,-170\n482,-147\n490,-178\n498,-163\n506,-158\n514,-174\n522,-166\n530,-179\n538,-153\n546,-170\n554,-162\n562,-175\n570,-150\n578,-168\n586,-177\n594,-160\n602,-172\n610,-156\n618,-179\n626,-165\n634,-148\n642,-171\n650,-163\n658,-176\n666,-158\n674,-169\n682,-177\n690,-152\n698,-166\n706,-174\n714,-160\n722,-178\n730,-146\n738,-168\n746,-175\n754,-157\n762,-170\n770,-163\n778,-179\n786,-151\n794,-167\n802,-174\n810,-159\n818,-177\n826,-165\n834,-150\n842,-172\n850,-161\n858,-178\n866,-155\n874,-169\n882,-176\n890,-147\n898,-166\n906,-173\n914,-158\n922,-179\n930,-164\n938,-153\n946,-171\n954,-177\n962,-160\n970,-168\n978,-149\n986,-175\n994,-163\n1002,-170\n1010,-156\n1018,-178\n1026,-165\n1034,-152\n1042,-173\n1050,-161\n1058,-177\n1066,-158\n1074,-169\n1082,-145\n1090,-175\n1098,-163\n1106,-171\n1114,-154\n1122,-179\n1130,-166\n1138,-160\n1146,-174\n1154,-150\n1162,-170\n1170,-177\n1178,-162\n1186,-168\n1194,-155\n1202,-178\n1210,-165\n1218,-148\n1226,-172\n1234,-160\n1242,-176\n1250,-157\n1258,-169\n1266,-179\n1274,-152\n1282,-167\n1290,-174\n1298,-159\n1306,-177\n1314,-164\n1322,-150\n1330,-171\n1338,-162\n1346,-178\n1354,-156\n1362,-169\n1370,-175\n1378,-147\n1386,-166\n1394,-173\n1399,-160","format":{"type":"csv","parse":{"x":"number","y":"number"}}},
"mark":{"type":"circle","color":"#7ba6d9"},
"encoding":{"x":{"field":"x","type":"quantitative","scale":{"domain":[0,1400],"nice":false},"axis":{"orient":"bottom","values":[0,200,400,600,800,1000,1200,1400],"labels":false,"grid":false,"title":null,"tickSize":{"condition":{"test":"datum.value%400==0","value":-17},"value":-9}}},
"y":{"field":"y","type":"quantitative","scale":{"domain":[-180,180],"nice":false},"axis":{"orient":"left","values":[-120,-60,0,60,120],"labels":false,"tickSize":-8,"tickOpacity":{"condition":{"test":"abs(datum.value)==60","value":1},"value":0},"grid":true,"gridDash":[1.5,3],"gridColor":"#333","gridOpacity":{"condition":{"test":"abs(datum.value)==60","value":0},"value":1},"title":null}}}},
{"data":{"values":"x,y\n3,-130\n9,-142\n15,-125\n21,-138\n27,-148\n33,-128\n39,-136\n45,-145\n51,-122\n57,-140\n63,-132\n69,-147\n75,-127\n81,-139\n87,-134\n93,-150\n99,-124\n105,-141\n111,-130\n117,-144\n123,-136\n129,-126\n135,-149\n141,-133\n147,-140\n153,-121\n159,-145\n165,-131\n171,-138\n177,-128\n183,-146\n189,-135\n195,-118\n201,-142\n207,-132\n218,-150\n235,-162\n250,-145\n268,-170\n285,-155\n300,-148\n318,-165\n335,-158\n352,-172\n370,-150\n388,-160\n405,-145\n422,-168\n440,-155\n458,-175\n475,-148\n492,-162\n510,-152\n528,-170\n545,-146\n562,-158\n580,-165\n598,-150\n615,-172\n632,-156\n650,-145\n668,-163\n685,-170\n702,-152\n720,-160\n738,-147\n755,-168\n772,-155\n790,-174\n808,-150\n825,-162\n842,-146\n860,-158\n878,-170\n895,-153\n912,-165\n930,-148\n948,-160\n965,-172\n982,-151\n1000,-163\n1018,-146\n1035,-168\n1052,-155\n1070,-149\n1088,-171\n1105,-158\n1122,-145\n1140,-165\n1158,-152\n1175,-170\n1192,-147\n1210,-160\n1228,-155\n1245,-168\n1262,-150\n1280,-162\n1298,-146\n1315,-172\n1332,-157\n1350,-150\n1368,-165\n1385,-153\n1398,-168\n400,170\n1025,176\n1390,178\n130,0\n140,0\n255,0\n330,0\n460,0\n480,0\n600,0\n750,0\n800,0\n860,0\n920,0\n1010,0\n1125,0\n1180,0\n1330,0\n1398,0","format":{"type":"csv","parse":{"x":"number","y":"number"}}},
"mark":{"type":"circle","color":"#b00000"},"encoding":{"x":{"field":"x","type":"quantitative","axis":null},"y":{"field":"y","type":"quantitative","axis":null}}},
{"data":{"values":"x,y\n5,176\n70,172\n120,178\n200,165\n260,177\n330,174\n420,179\n505,176\n560,170\n660,178\n750,175\n850,179\n930,176\n980,172\n1050,178\n1130,174\n1215,179\n1290,176\n1360,173\n8,-178\n30,-150\n55,-165\n80,-142\n105,-170\n130,-155\n155,-176\n180,-160\n205,-148\n230,-168\n255,-140\n280,-172\n305,-158\n330,-145\n355,-166\n380,-176\n405,-152\n430,-162\n455,-138\n480,-170\n505,-155\n530,-146\n555,-175\n580,-160\n605,-150\n630,-168\n655,-142\n680,-172\n705,-156\n730,-165\n755,-148\n780,-176\n805,-160\n830,-138\n855,-167\n880,-153\n905,-145\n930,-170\n955,-158\n980,-150\n1005,-176\n1030,-143\n1055,-163\n1080,-155\n1105,-147\n1130,-170\n1155,-138\n1180,-160\n1205,-152\n1230,-175\n1255,-145\n1280,-165\n1305,-150\n1330,-172\n1355,-140\n1380,-158\n1397,-178\n30,0\n85,0\n180,0\n230,0\n290,0\n390,0\n520,0\n545,0\n700,0\n810,0\n830,0\n900,0\n1050,0\n1100,0\n1240,0\n1280,0","format":{"type":"csv","parse":{"x":"number","y":"number"}}},
"mark":{"type":"circle","color":"#000000"},"encoding":{"x":{"field":"x","type":"quantitative","axis":null},"y":{"field":"y","type":"quantitative","axis":null}}},
{"data":{"values":[{"x":0,"y":0}]},"mark":{"type":"circle","opacity":0},"encoding":{"x":{"field":"x","type":"quantitative","axis":{"orient":"top","values":[0,200,400,600,800,1000,1200,1400],"labels":false,"grid":false,"title":null,"tickSize":{"condition":{"test":"datum.value%400==0","value":-17},"value":-9}}},"y":{"field":"y","type":"quantitative","axis":{"orient":"right","values":[-60,60],"labels":false,"grid":false,"tickSize":-8,"title":"C3","titleAngle":0,"titleAlign":"left","titleBaseline":"middle","titleFontSize":20,"titleFontWeight":"normal","titlePadding":4}}}}
]},
{"width":806,"height":145,"resolve":{"axis":{"x":"independent","y":"independent"}},"layer":[
{"data":{"values":"x,y\n2,80\n9,68\n16,88\n23,72\n30,62\n37,84\n44,75\n51,66\n58,90\n65,70\n72,79\n79,60\n86,85\n93,73\n100,67\n107,82\n114,74\n121,92\n128,64\n135,78\n142,70\n149,86\n156,61\n163,77\n170,83\n177,68\n184,89\n191,72\n198,63\n205,80\n212,75\n219,91\n226,66\n233,79\n240,71\n247,85\n254,60\n261,76\n268,82\n275,69\n282,88\n289,74\n296,64\n303,81\n310,77\n317,92\n324,67\n331,73\n338,84\n345,62\n352,78\n359,70\n366,87\n373,65\n380,80\n387,74\n394,90\n401,68\n408,76\n415,83\n422,61\n429,79\n436,72\n443,89\n450,66\n457,81\n464,75\n471,63\n478,86\n485,71\n492,78\n499,93\n506,64\n513,77\n520,82\n527,69\n534,87\n541,73\n548,60\n555,80\n562,76\n569,91\n576,67\n583,79\n590,72\n597,85\n604,62\n611,77\n618,83\n625,70\n632,88\n639,65\n646,78\n653,74\n660,92\n667,66\n674,80\n681,71\n688,86\n695,61\n702,77\n709,84\n716,69\n723,89\n730,73\n737,63\n744,81\n751,76\n758,90\n765,67\n772,79\n779,72\n786,85\n793,60\n800,78\n807,83\n814,70\n821,88\n828,65\n835,77\n842,74\n849,93\n856,68\n863,80\n870,71\n877,84\n884,62\n891,76\n898,87\n905,70\n912,81\n919,66\n926,79\n933,73\n940,91\n947,64\n954,78\n961,84\n968,69\n975,87\n982,72\n989,61\n996,80\n1003,75\n1010,90\n1017,67\n1024,79\n1031,71\n1038,85\n1045,62\n1052,77\n1059,83\n1066,70\n1073,89\n1080,65\n1087,78\n1094,74\n1101,92\n1108,66\n1115,80\n1122,71\n1129,86\n1136,61\n1143,77\n1150,84\n1157,69\n1164,88\n1171,73\n1178,63\n1185,81\n1192,76\n1199,90\n1206,67\n1213,79\n1220,72\n1227,85\n1234,60\n1241,78\n1248,83\n1255,70\n1262,88\n1269,65\n1276,77\n1283,74\n1290,93\n1297,68\n1304,80\n1311,71\n1318,84\n1325,62\n1332,76\n1339,87\n1346,70\n1353,81\n1360,66\n1367,79\n1374,73\n1381,91\n1388,64\n1395,78\n1399,84","format":{"type":"csv","parse":{"x":"number","y":"number"}}},
"mark":{"type":"circle","color":"#7ba6d9"},
"encoding":{"x":{"field":"x","type":"quantitative","scale":{"domain":[0,1400],"nice":false},"axis":{"orient":"bottom","values":[0,200,400,600,800,1000,1200,1400],"labels":false,"grid":false,"title":null,"tickSize":{"condition":{"test":"datum.value%400==0","value":-17},"value":-9}}},
"y":{"field":"y","type":"quantitative","scale":{"domain":[-180,180],"nice":false},"axis":{"orient":"left","values":[-120,-60,0,60,120],"labels":false,"tickSize":-8,"tickOpacity":{"condition":{"test":"abs(datum.value)==60","value":1},"value":0},"grid":true,"gridDash":[1.5,3],"gridColor":"#333","gridOpacity":{"condition":{"test":"abs(datum.value)==60","value":0},"value":1},"title":null}}}},
{"data":{"values":"x,y\n2,120\n9,140\n16,110\n23,132\n30,150\n37,118\n44,128\n51,145\n58,108\n65,135\n72,122\n79,155\n86,115\n93,130\n100,142\n107,112\n114,126\n121,148\n128,119\n135,137\n142,105\n149,131\n156,146\n163,116\n170,128\n177,152\n184,121\n191,139\n198,110\n205,133\n212,144\n219,118\n226,129\n233,160\n240,115\n247,137\n254,175\n257,168\n260,150\n263,122\n270,140\n277,112\n284,132\n291,147\n298,120\n305,135\n312,108\n319,128\n326,153\n333,117\n340,138\n347,124\n354,145\n361,111\n368,130\n375,142\n382,119\n389,134\n396,150\n403,113\n410,127\n417,139\n424,106\n431,131\n438,148\n445,120\n452,135\n459,115\n466,142\n473,126\n480,156\n487,118\n494,133\n501,109\n508,140\n515,123\n522,147\n529,114\n536,129\n543,152\n550,120\n557,136\n564,111\n571,144\n578,125\n585,132\n592,158\n599,117\n606,138\n613,122\n620,108\n627,146\n634,130\n641,119\n648,140\n655,113\n662,127\n669,150\n676,121\n683,135\n690,110\n697,143\n704,128\n711,117\n718,155\n725,124\n732,137\n739,106\n746,131\n753,145\n760,119\n767,134\n774,112\n781,148\n788,126\n795,139\n802,115\n809,131\n816,153\n823,120\n830,136\n837,109\n844,142\n851,125\n858,132\n865,157\n872,118\n879,138\n886,123\n893,110\n900,147\n907,129\n914,136\n921,114\n928,151\n935,122\n942,140\n949,108\n956,133\n963,145\n970,119\n977,128\n984,155\n991,116\n998,137\n1005,124\n1012,111\n1019,143\n1026,130\n1033,149\n1040,118\n1047,134\n1054,126\n1061,106\n1068,141\n1075,121\n1082,152\n1089,113\n1096,135\n1103,127\n1110,145\n1117,117\n1124,131\n1131,108\n1138,147\n1145,124\n1152,138\n1159,115\n1166,133\n1173,156\n1180,120\n1187,137\n1194,110\n1201,144\n1208,126\n1215,132\n1222,150\n1229,118\n1236,139\n1243,123\n1250,107\n1257,146\n1264,129\n1271,135\n1278,114\n1285,153\n1292,121\n1299,140\n1306,111\n1313,133\n1320,148\n1327,119\n1334,127\n1341,157\n1348,116\n1355,136\n1362,124\n1369,142\n1376,109\n1383,131\n1390,146\n1397,120\n40,0\n110,0\n160,0\n290,0\n375,0\n400,0\n560,0\n620,0\n760,0\n850,0\n930,0\n1040,0\n1150,0\n1260,0\n1330,0\n1390,0","format":{"type":"csv","parse":{"x":"number","y":"number"}}},
"mark":{"type":"circle","color":"#b00000"},"encoding":{"x":{"field":"x","type":"quantitative","axis":null},"y":{"field":"y","type":"quantitative","axis":null}}},
{"data":{"values":"x,y\n5,55\n14,45\n23,60\n32,40\n41,52\n50,58\n59,38\n68,50\n77,62\n86,44\n95,55\n104,48\n113,36\n122,57\n131,46\n140,53\n149,41\n158,60\n167,49\n176,55\n185,43\n194,58\n203,47\n212,52\n221,39\n230,61\n239,50\n248,45\n257,56\n266,42\n275,53\n284,48\n293,59\n302,40\n311,51\n320,57\n329,44\n338,53\n347,38\n356,60\n365,49\n374,45\n383,56\n392,41\n401,54\n410,48\n419,35\n428,58\n437,47\n446,52\n455,43\n464,60\n473,50\n482,46\n491,55\n500,39\n509,57\n518,48\n527,44\n536,56\n545,20\n555,51\n564,42\n573,58\n582,49\n591,45\n600,54\n609,38\n618,59\n627,47\n636,52\n645,43\n654,61\n663,50\n672,46\n681,55\n690,40\n699,57\n708,49\n717,44\n726,56\n735,41\n744,53\n753,48\n762,60\n771,45\n780,52\n789,38\n798,57\n807,49\n816,44\n825,55\n834,42\n843,58\n852,47\n861,52\n870,37\n879,56\n888,48\n897,45\n906,59\n915,43\n924,53\n933,49\n942,40\n951,57\n960,46\n969,52\n978,44\n987,60\n996,50\n1005,41\n1014,55\n1023,47\n1032,53\n1041,39\n1050,58\n1059,48\n1068,44\n1077,56\n1086,50\n1095,42\n1104,59\n1113,47\n1122,53\n1131,45\n1140,60\n1149,49\n1158,38\n1167,55\n1176,46\n1185,52\n1194,43\n1203,57\n1212,48\n1221,54\n1230,40\n1239,58\n1248,47\n1257,52\n1266,44\n1275,60\n1284,50\n1293,45\n1302,56\n1311,41\n1320,53\n1329,48\n1338,59\n1347,43\n1356,55\n1365,47\n1374,52\n1383,40\n1392,57\n1399,48\n100,75\n300,88\n500,70\n700,95\n900,82\n1100,78\n1300,90\n1398,100\n1390,80","format":{"type":"csv","parse":{"x":"number","y":"number"}}},
"mark":{"type":"circle","color":"#000000"},"encoding":{"x":{"field":"x","type":"quantitative","axis":null},"y":{"field":"y","type":"quantitative","axis":null}}},
{"data":{"values":[{"x":0,"y":0}]},"mark":{"type":"circle","opacity":0},"encoding":{"x":{"field":"x","type":"quantitative","axis":{"orient":"top","values":[0,200,400,600,800,1000,1200,1400],"labels":false,"grid":false,"title":null,"tickSize":{"condition":{"test":"datum.value%400==0","value":-17},"value":-9}}},"y":{"field":"y","type":"quantitative","axis":{"orient":"right","values":[-60,60],"labels":false,"grid":false,"tickSize":-8,"title":"G4","titleAngle":0,"titleAlign":"left","titleBaseline":"middle","titleFontSize":20,"titleFontWeight":"normal","titlePadding":4}}}}
]},
{"width":806,"height":145,"resolve":{"axis":{"x":"independent","y":"independent"}},"layer":[
{"data":{"values":"x,y\n15,176\n80,179\n150,174\n230,178\n320,172\n410,179\n500,176\n590,170\n680,178\n770,175\n850,179\n940,173\n1030,177\n1120,179\n1210,174\n1300,178\n1380,176\n1,170\n1,150\n2,130\n2,110\n3,95\n3,80\n4,140\n5,120\n2,65\n4,100\n2,-165\n14,-158\n26,-172\n38,-162\n50,-176\n62,-155\n74,-168\n86,-160\n98,-174\n110,-152\n122,-166\n134,-177\n146,-159\n158,-170\n170,-163\n182,-175\n194,-154\n206,-167\n218,-178\n230,-161\n242,-171\n254,-156\n266,-169\n278,-176\n290,-158\n302,-166\n314,-173\n326,-152\n338,-164\n350,-177\n362,-160\n374,-170\n386,-155\n398,-175\n410,-163\n422,-168\n434,-151\n446,-178\n458,-161\n470,-172\n482,-157\n494,-167\n506,-176\n518,-154\n530,-165\n542,-170\n554,-159\n566,-177\n578,-162\n590,-153\n602,-174\n614,-166\n626,-158\n638,-171\n650,-178\n662,-156\n674,-168\n686,-162\n698,-175\n710,-151\n722,-167\n734,-173\n746,-160\n758,-178\n770,-155\n782,-169\n794,-164\n806,-174\n818,-157\n830,-170\n842,-178\n854,-152\n866,-165\n878,-172\n890,-159\n902,-176\n914,-163\n926,-168\n938,-154\n950,-177\n962,-161\n974,-171\n986,-156\n998,-168\n1010,-175\n1022,-158\n1034,-166\n1046,-173\n1058,-153\n1070,-169\n1082,-178\n1094,-160\n1106,-172\n1118,-155\n1130,-167\n1142,-176\n1154,-162\n1166,-170\n1178,-152\n1190,-174\n1202,-164\n1214,-158\n1226,-177\n1238,-166\n1250,-155\n1262,-171\n1274,-161\n1286,-178\n1298,-157\n1310,-168\n1322,-173\n1334,-154\n1346,-165\n1358,-176\n1370,-160\n1382,-170\n1394,-156\n1399,-167","format":{"type":"csv","parse":{"x":"number","y":"number"}}},
"mark":{"type":"circle","color":"#7ba6d9"},
"encoding":{"x":{"field":"x","type":"quantitative","scale":{"domain":[0,1400],"nice":false},"axis":{"orient":"bottom","values":[0,200,400,600,800,1000,1200,1400],"labels":false,"grid":false,"title":null,"tickSize":{"condition":{"test":"datum.value%400==0","value":-17},"value":-9}}},
"y":{"field":"y","type":"quantitative","scale":{"domain":[-180,180],"nice":false},"axis":{"orient":"left","values":[-120,-60,0,60,120],"labels":false,"tickSize":-8,"tickOpacity":{"condition":{"test":"abs(datum.value)==60","value":1},"value":0},"grid":true,"gridDash":[1.5,3],"gridColor":"#333","gridOpacity":{"condition":{"test":"abs(datum.value)==60","value":0},"value":1},"title":null}}}},
{"data":{"values":"x,y\n60,175\n250,172\n480,178\n700,174\n950,177\n1150,172\n1320,176\n5,-145\n22,-152\n39,-140\n56,-157\n73,-147\n90,-138\n107,-155\n124,-143\n141,-160\n158,-149\n175,-136\n192,-153\n209,-146\n226,-158\n243,-141\n260,-150\n277,-162\n294,-144\n311,-137\n328,-155\n345,-148\n362,-139\n379,-158\n396,-146\n413,-153\n430,-135\n447,-150\n464,-161\n481,-143\n498,-156\n515,-147\n532,-139\n549,-154\n566,-145\n583,-160\n600,-141\n617,-151\n634,-137\n651,-157\n668,-148\n685,-142\n702,-155\n719,-138\n736,-150\n753,-162\n770,-144\n787,-153\n804,-140\n821,-158\n838,-147\n855,-136\n872,-152\n889,-145\n906,-160\n923,-139\n940,-149\n957,-156\n974,-142\n991,-151\n1008,-137\n1025,-158\n1042,-146\n1059,-141\n1076,-154\n1093,-148\n1110,-161\n1127,-138\n1144,-150\n1161,-144\n1178,-157\n1195,-140\n1212,-152\n1229,-147\n1246,-135\n1263,-156\n1280,-143\n1297,-150\n1314,-160\n1331,-139\n1348,-153\n1365,-146\n1382,-141\n1398,-155\n50,0\n175,0\n200,0\n310,0\n415,0\n530,0\n680,0\n690,0\n810,0\n950,0\n1080,0\n1200,0\n1290,0\n1360,0","format":{"type":"csv","parse":{"x":"number","y":"number"}}},
"mark":{"type":"circle","color":"#b00000"},"encoding":{"x":{"field":"x","type":"quantitative","axis":null},"y":{"field":"y","type":"quantitative","axis":null}}},
{"data":{"values":"x,y\n10,178\n95,175\n180,179\n270,170\n350,177\n440,174\n520,179\n610,176\n720,173\n800,178\n890,175\n980,179\n1060,171\n1150,177\n1240,174\n1330,179\n1395,175\n1040,150\n12,-160\n40,-148\n68,-170\n96,-142\n124,-158\n152,-175\n180,-150\n208,-165\n236,-138\n264,-155\n292,-172\n320,-145\n348,-162\n376,-150\n404,-177\n432,-140\n460,-158\n488,-168\n516,-146\n544,-155\n572,-173\n600,-137\n628,-160\n656,-150\n684,-170\n712,-143\n740,-157\n768,-165\n796,-139\n824,-152\n852,-176\n880,-147\n908,-160\n936,-141\n964,-168\n992,-153\n1020,-145\n1048,-172\n1076,-150\n1104,-138\n1132,-162\n1160,-156\n1188,-175\n1216,-144\n1244,-158\n1272,-166\n1300,-140\n1328,-153\n1356,-170\n1384,-148\n1397,-130\n90,0\n260,0\n330,0\n470,0\n600,0\n760,0\n880,0\n1010,0\n1100,0\n1250,0\n1380,0","format":{"type":"csv","parse":{"x":"number","y":"number"}}},
"mark":{"type":"circle","color":"#000000"},"encoding":{"x":{"field":"x","type":"quantitative","axis":null},"y":{"field":"y","type":"quantitative","axis":null}}},
{"data":{"values":[{"x":0,"y":0}]},"mark":{"type":"circle","opacity":0},"encoding":{"x":{"field":"x","type":"quantitative","axis":{"orient":"top","values":[0,200,400,600,800,1000,1200,1400],"labels":false,"grid":false,"title":null,"tickSize":{"condition":{"test":"datum.value%400==0","value":-17},"value":-9}}},"y":{"field":"y","type":"quantitative","axis":{"orient":"right","values":[-60,60],"labels":false,"grid":false,"tickSize":-8,"title":"A5","titleAngle":0,"titleAlign":"left","titleBaseline":"middle","titleFontSize":20,"titleFontWeight":"normal","titlePadding":4}}}}
]},
{"width":806,"height":145,"resolve":{"axis":{"x":"independent","y":"independent"}},"layer":[
{"data":{"values":"x,y\n2,82\n9,70\n16,90\n23,74\n30,64\n37,86\n44,77\n51,68\n58,92\n65,72\n72,81\n79,62\n86,87\n93,75\n100,69\n107,84\n114,76\n121,94\n128,66\n135,80\n142,72\n149,88\n156,63\n163,79\n170,85\n177,70\n184,91\n191,74\n198,65\n205,82\n212,77\n219,93\n226,68\n233,81\n240,73\n247,87\n254,62\n261,78\n268,84\n275,71\n282,90\n289,76\n296,66\n303,83\n310,79\n317,94\n324,69\n331,75\n338,86\n345,64\n352,80\n359,72\n366,89\n373,67\n380,82\n387,76\n394,92\n401,70\n408,78\n415,85\n422,63\n429,81\n436,74\n443,91\n450,68\n457,83\n464,77\n471,65\n478,88\n485,73\n492,80\n499,95\n506,66\n513,79\n520,84\n527,71\n534,89\n541,75\n548,62\n555,82\n562,78\n569,93\n576,69\n583,81\n590,74\n597,87\n604,64\n611,79\n618,85\n625,72\n632,90\n639,67\n646,80\n653,76\n660,94\n667,68\n674,82\n681,73\n688,88\n695,63\n702,79\n709,86\n716,71\n723,91\n730,75\n737,65\n744,83\n751,78\n758,92\n765,69\n772,81\n779,74\n786,87\n793,62\n800,80\n807,85\n814,72\n821,90\n828,67\n835,79\n842,76\n849,95\n856,70\n863,82\n870,73\n877,86\n884,64\n891,78\n898,89\n905,72\n912,83\n919,68\n926,81\n933,75\n940,93\n947,66\n954,80\n961,86\n968,71\n975,89\n982,74\n989,63\n996,82\n1003,77\n1010,92\n1017,69\n1024,81\n1031,73\n1038,87\n1045,64\n1052,79\n1059,85\n1066,72\n1073,91\n1080,67\n1087,80\n1094,76\n1101,94\n1108,68\n1115,82\n1122,73\n1129,88\n1136,63\n1143,79\n1150,86\n1157,71\n1164,90\n1171,75\n1178,65\n1185,83\n1192,78\n1199,92\n1206,69\n1213,81\n1220,74\n1227,87\n1234,62\n1241,80\n1248,85\n1255,72\n1262,90\n1269,67\n1276,79\n1283,76\n1290,95\n1297,70\n1304,82\n1311,73\n1318,86\n1325,64\n1332,78\n1339,89\n1346,72\n1353,83\n1360,68\n1367,81\n1374,75\n1381,93\n1388,66\n1395,80\n1399,86\n1,-120\n2,-140\n3,-160\n4,-175\n5,-130\n6,-150\n8,-170\n2,-110","format":{"type":"csv","parse":{"x":"number","y":"number"}}},
"mark":{"type":"circle","color":"#7ba6d9"},
"encoding":{"x":{"field":"x","type":"quantitative","scale":{"domain":[0,1400],"nice":false},"axis":{"orient":"bottom","values":[0,200,400,600,800,1000,1200,1400],"labelExpr":"(datum.value%400==0&&datum.value>0)?datum.value+'ns':''","labelFontSize":20,"labelPadding":20,"labelFlush":false,"grid":false,"title":null,"tickSize":{"condition":{"test":"datum.value%400==0","value":-17},"value":-9}}},
"y":{"field":"y","type":"quantitative","scale":{"domain":[-180,180],"nice":false},"axis":{"orient":"left","values":[-120,-60,0,60,120],"labels":false,"tickSize":-8,"tickOpacity":{"condition":{"test":"abs(datum.value)==60","value":1},"value":0},"grid":true,"gridDash":[1.5,3],"gridColor":"#333","gridOpacity":{"condition":{"test":"abs(datum.value)==60","value":0},"value":1},"title":null}}}},
{"data":{"values":"x,y\n2,125\n9,150\n16,110\n23,138\n30,160\n37,118\n44,132\n51,145\n58,105\n65,140\n72,122\n79,158\n86,115\n93,135\n100,148\n107,112\n114,128\n121,170\n128,120\n135,142\n142,108\n149,152\n156,126\n163,115\n170,140\n177,178\n184,122\n191,146\n198,110\n205,135\n212,162\n219,118\n226,130\n233,155\n240,108\n247,138\n254,124\n261,175\n268,116\n275,148\n282,129\n289,106\n296,144\n303,120\n310,165\n317,133\n324,112\n331,150\n338,125\n345,140\n352,104\n359,131\n366,158\n373,119\n380,137\n387,114\n394,180\n401,127\n408,146\n415,110\n422,134\n429,155\n436,121\n443,142\n450,107\n457,130\n464,168\n471,117\n478,139\n485,126\n492,150\n499,111\n506,135\n513,172\n520,120\n527,144\n534,105\n541,129\n548,160\n555,115\n562,138\n569,124\n576,152\n583,109\n590,133\n597,145\n604,118\n611,176\n618,127\n625,140\n632,106\n639,131\n646,156\n653,114\n660,137\n667,123\n674,149\n681,110\n688,134\n695,166\n702,119\n709,142\n716,126\n723,108\n730,153\n737,130\n744,117\n751,141\n758,179\n765,122\n772,136\n779,112\n786,147\n793,128\n800,158\n807,115\n814,133\n821,144\n828,104\n835,129\n842,170\n849,121\n856,139\n863,110\n870,151\n877,126\n884,136\n891,117\n898,163\n905,131\n912,108\n919,145\n926,124\n933,177\n940,113\n947,138\n954,128\n961,154\n968,116\n975,134\n982,106\n989,148\n996,125\n1003,140\n1010,171\n1017,119\n1024,131\n1031,111\n1038,157\n1045,127\n1052,143\n1059,115\n1066,136\n1073,167\n1080,122\n1087,147\n1094,108\n1101,132\n1108,153\n1115,118\n1122,139\n1129,126\n1136,178\n1143,113\n1150,135\n1157,149\n1164,120\n1171,130\n1178,107\n1185,161\n1192,124\n1199,141\n1206,116\n1213,137\n1220,169\n1227,128\n1234,110\n1241,145\n1248,122\n1255,133\n1262,158\n1269,117\n1276,140\n1283,106\n1290,175\n1297,129\n1304,148\n1311,119\n1318,136\n1325,164\n1332,112\n1339,131\n1346,150\n1353,123\n1360,142\n1367,109\n1374,156\n1381,127\n1388,138\n1395,116\n1399,145\n60,178\n330,176\n600,179\n880,177\n1050,175\n1300,179\n20,-175\n45,-160\n48,-170\n72,-168\n100,-178\n130,-165\n160,-172\n185,-158\n190,-175\n218,-170\n245,-162\n270,-176\n300,-168\n315,-150\n330,-172\n360,-165\n390,-178\n395,-160\n420,-170\n440,-165\n470,-175\n500,-155\n530,-168\n555,-172\n585,-150\n590,-175\n610,-162\n640,-178\n680,-168\n720,-172\n760,-175\n790,-168\n830,-165\n860,-176\n870,-155\n900,-170\n930,-162\n960,-175\n1000,-168\n1040,-172\n1080,-160\n1110,-176\n1140,-168\n1180,-170\n1210,-162\n1245,-158\n1265,-175\n1300,-168\n1330,-172\n1360,-165\n1385,-176\n60,0\n145,0\n330,0\n390,0\n580,0\n650,0\n790,0\n900,0\n970,0\n1150,0\n1230,0\n1390,0","format":{"type":"csv","parse":{"x":"number","y":"number"}}},
"mark":{"type":"circle","color":"#b00000"},"encoding":{"x":{"field":"x","type":"quantitative","axis":null},"y":{"field":"y","type":"quantitative","axis":null}}},
{"data":{"values":"x,y\n40,45\n48,35\n56,52\n64,40\n72,30\n80,48\n88,38\n96,55\n104,42\n112,33\n120,50\n128,44\n136,28\n144,53\n152,39\n160,46\n168,34\n176,51\n184,41\n192,48\n256,44\n264,32\n272,50\n280,38\n288,55\n296,42\n304,30\n312,48\n320,37\n328,52\n336,43\n344,29\n352,50\n360,40\n368,47\n376,34\n384,53\n392,41\n400,36\n408,49\n416,30\n424,45\n432,38\n440,52\n782,46\n790,33\n798,51\n806,40\n814,28\n822,48\n830,37\n838,54\n846,42\n854,31\n862,49\n870,39\n878,45\n886,30\n894,52\n902,41\n910,47\n918,34\n926,50\n934,38\n942,44\n950,29\n958,53\n966,40\n974,46\n992,42\n1000,30\n1008,50\n1016,38\n1024,47\n1032,33\n1040,54\n1048,41\n1056,29\n1064,48\n1072,37\n1080,51\n1088,43\n1096,32\n1104,49\n1112,39\n1120,45\n1128,28\n1136,52\n1144,40\n1152,46\n1160,35\n1168,50\n1176,42\n5,90\n8,70\n3,80\n220,110\n480,120\n520,135\n600,125\n700,105\n760,140\n1200,115\n1250,130\n1300,108\n1350,122\n1395,100\n1398,140\n230,60\n470,58\n560,62\n650,60\n1220,58\n1300,62\n1380,55\n120,0\n250,0\n600,0\n620,0\n920,0\n1000,0\n1080,0\n1120,0\n1200,0","format":{"type":"csv","parse":{"x":"number","y":"number"}}},
"mark":{"type":"circle","color":"#000000"},"encoding":{"x":{"field":"x","type":"quantitative","axis":null},"y":{"field":"y","type":"quantitative","axis":null}}},
{"data":{"values":[{"x":0,"y":0}]},"mark":{"type":"circle","opacity":0},"encoding":{"x":{"field":"x","type":"quantitative","axis":{"orient":"top","values":[0,200,400,600,800,1000,1200,1400],"labels":false,"grid":false,"title":null,"tickSize":{"condition":{"test":"datum.value%400==0","value":-17},"value":-9}}},"y":{"field":"y","type":"quantitative","axis":{"orient":"right","values":[-60,60],"labels":false,"grid":false,"tickSize":-8,"title":"A6","titleAngle":0,"titleAlign":"left","titleBaseline":"middle","titleFontSize":20,"titleFontWeight":"normal","titlePadding":4}}}}
]}
]}
]
}
